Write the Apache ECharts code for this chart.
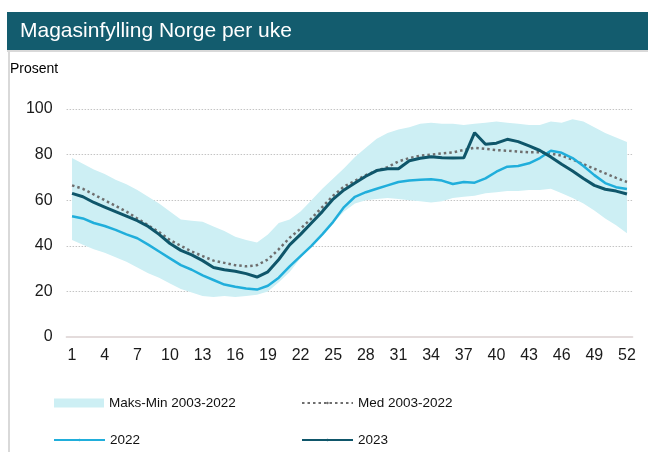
<!DOCTYPE html>
<html>
<head>
<meta charset="utf-8">
<title>Magasinfylling Norge per uke</title>
<script src="https://cdn.jsdelivr.net/npm/echarts@6.0.0/dist/echarts.min.js"></script>
<style>
	html, body { margin: 0; padding: 0; background: #fff; }
	#chart { width: 648px; height: 452px; }
</style>
</head>
<body>
<div id="chart"></div>
<script>
// uker
var weeks = ["1","2","3","4","5","6","7","8","9","10","11","12","13","14","15","16","17","18","19","20",
	"21","22","23","24","25","26","27","28","29","30","31","32","33","34","35","36","37","38","39","40",
	"41","42","43","44","45","46","47","48","49","50","51","52"];

// maks / min 2003-2022
var maxFill = [78.5,76,73.5,71.5,69,67,64.5,61.5,58.5,55,51.5,51,50.5,48.5,46.5,44,42.5,41.5,45,50,
	51.5,55,60,65,69.5,74,79,83,87,89.5,91,92,93.5,94,93.5,93.5,93,93.5,94,94.5,
	94,93.5,93,93,94.5,94,95.5,94.5,92,89.5,87.5,85.5];
var minFill = [42.5,40.5,38.5,37,35,33,30.5,28,26,23.5,21,19.5,18,17.5,18,17.5,18,18.5,20,24,
	28.5,34.5,40,45,50,55,58.5,60,60.5,61,60.5,60,59.5,59,59.5,61,61.5,62,63,63.5,
	64,64,64.5,64.5,65,63,61,58.5,55.5,52,49,45.5];

// median 2003-2022
var medFill = [66.5,65,62.5,60,57.5,55,52,49,46,42.5,40,37.5,35.5,33.5,32.5,31.5,31,31.5,34,38.5,
	43.5,47.5,52,57,62,66,68.5,71,73,74.5,77,78.5,79.5,80,80.5,81,82,83,82.5,82,
	81.7,81.3,81,81,80.5,79.5,77.8,75.8,73.8,71.8,69.8,68];

var fill2022 = [53,52,50,48.7,47,45,43.3,40.5,37.5,34.5,31.5,29.5,27,25,23,22,21.3,20.8,22.5,26,
	31,35.5,40,45,50.5,57,61.5,63.5,65,66.5,68,68.6,69,69.2,68.6,67.1,68,67.7,69.6,72.5,
	74.7,75,76.2,78.5,81.7,80.8,78.5,75,71,67.5,65.7,64.9];

var fill2023 = [63,61.5,59,57,55,53,51,48.5,45,41,38,36,33.5,30.5,29.5,28.8,27.8,26.3,28.6,34,
	40.4,45,50,55,60.5,64.5,67.5,70.5,73,73.8,73.8,77.3,78.4,79.1,78.6,78.5,78.6,89.6,84.5,85,
	86.7,85.7,83.8,81.8,79,75.8,72.8,69.5,66.5,64.8,64,62.7];

var yTicks = { min: 0, max: 100, step: 20 };

// farger
var barColor = "#135c6e";
var bandColor = "#cdeff4";
var color2022 = "#20aedb";
var color2023 = "#0f566a";
var medColor = "#6e6e6e";

// bredde på båndet = maks - min (stablet oppå min)
var bandWidth = [];
for (var i = 0; i < maxFill.length; i++) {
	bandWidth.push(+(maxFill[i] - minFill[i]).toFixed(2));
}

var chart = echarts.init(document.getElementById("chart"), null, { renderer: "canvas" });

var font = "Liberation Sans, Arial, sans-serif";

// én legende per element, slik at de står i to kolonner som i originalen
function legendAt(name, left, top, isBand) {
	var l = {
		left: left,
		top: top,
		padding: 0,
		orient: "horizontal",
		itemWidth: 51,
		itemHeight: 3,   // liten høyde => symbolet i linjeikonet blir usynlig
		selectedMode: false,
		textStyle: { fontFamily: font, fontSize: 13.5, color: "#111" },
		data: [name]
	};
	if (isBand) {
		l.itemWidth = 50;
		l.itemHeight = 9;
		l.data = [{ name: name, icon: "rect", itemStyle: { color: bandColor } }];
	}
	return l;
}

var option = {
	animation: false,
	grid: { left: 66.6, right: 15.6, top: 109, bottom: 115 },
	graphic: [
		{ type: "rect", shape: { x: 7, y: 12, width: 641, height: 38 }, style: { fill: barColor }, silent: true },
		{ type: "rect", shape: { x: 7, y: 50, width: 641, height: 2 }, style: { fill: "#d9d9d9" }, silent: true },
		{ type: "rect", shape: { x: 8, y: 50, width: 2, height: 402 }, style: { fill: "#d9d9d9" }, silent: true },
		{
			type: "text", left: 20, top: 21, silent: true,
			style: { text: "Magasinfylling Norge per uke", fill: "#fff", font: "21px " + font }
		},
		{
			type: "text", left: 10, top: 62, silent: true,
			style: { text: "Prosent", fill: "#000", font: "14px " + font }
		}
	],
	legend: [
		legendAt("Maks-Min 2003-2022", 54, 396, true),
		legendAt("Med 2003-2022", 301, 396),
		legendAt("2022", 53, 433),
		legendAt("2023", 301, 433)
	],
	xAxis: {
		type: "category",
		data: weeks,
		boundaryGap: true,
		axisLine: { lineStyle: { color: "#e4dcdc", width: 2 } },
		axisTick: { show: false },
		axisLabel: { interval: 2, margin: 11, fontFamily: font, fontSize: 16, color: "#1a1a1a" }
	},
	yAxis: {
		type: "value",
		min: yTicks.min,
		max: yTicks.max,
		interval: yTicks.step,
		axisLine: { show: false },
		axisTick: { show: false },
		axisLabel: { margin: 14, fontFamily: font, fontSize: 16, color: "#1a1a1a" },
		splitLine: { lineStyle: { color: "#c4c4c4", type: [1.5, 1.5], width: 1 } }
	},
	series: [
		{
			name: "min",
			type: "line",
			stack: "band",
			data: minFill,
			symbol: "none",
			silent: true,
			lineStyle: { width: 0, opacity: 0 },
			z: 1
		},
		{
			name: "Maks-Min 2003-2022",
			type: "line",
			stack: "band",
			data: bandWidth,
			symbol: "none",
			silent: true,
			itemStyle: { color: bandColor },
			lineStyle: { width: 0, opacity: 0 },
			areaStyle: { color: bandColor, opacity: 1 },
			z: 1
		},
		{
			name: "Med 2003-2022",
			type: "line",
			data: medFill,
			symbol: "none",
			itemStyle: { color: medColor },
			lineStyle: { color: medColor, width: 2.5, type: [2.5, 3] },
			z: 3
		},
		{
			name: "2022",
			type: "line",
			data: fill2022,
			symbol: "none",
			itemStyle: { color: color2022 },
			lineStyle: { color: color2022, width: 2.5 },
			z: 4
		},
		{
			name: "2023",
			type: "line",
			data: fill2023,
			symbol: "none",
			itemStyle: { color: color2023 },
			lineStyle: { color: color2023, width: 3 },
			z: 5
		}
	]
};

chart.setOption(option);
</script>
</body>
</html>
